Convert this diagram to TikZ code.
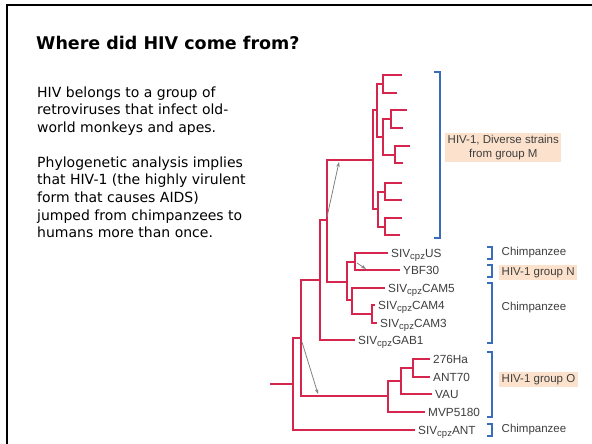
\documentclass[tikz,border=0pt]{standalone}
\usepackage{fontspec}
\setmainfont{Liberation Sans}
\newfontfamily\slidefont{DejaVu Sans}
\usetikzlibrary{arrows.meta}

\definecolor{treered}{RGB}{214,38,78}
\definecolor{bracketblue}{RGB}{58,108,190}
\definecolor{peach}{RGB}{252,226,204}
\definecolor{labelgray}{RGB}{62,62,62}

\newcommand{\cpzsub}{\raisebox{-0.4ex}{\fontsize{9.5}{10}\selectfont cpz}}

\begin{document}
\begin{tikzpicture}[x=1pt,y=-1pt,
    branch/.style={treered, line width=1.3pt},
    bracket/.style={bracketblue, line width=1.3pt},
    leaf/.style={anchor=west, inner xsep=3pt, inner ysep=0pt, text height=8.4pt, text depth=0pt,
        text=labelgray, font=\fontsize{11.8}{13}\selectfont},
    grouplabel/.style={anchor=west, inner xsep=2.5pt, inner ysep=2pt, text=labelgray,
        font=\fontsize{11.5}{14.5}\selectfont},
    hiv/.style={grouplabel, fill=peach},
    jump/.style={gray, line width=0.8pt, -{Stealth[length=5pt,width=3.5pt]}}]

    \useasboundingbox (0,0) rectangle (592,444);

    % Slide frame
    \draw[line width=2pt] (7,444) -- (7,5) -- (592,5);

    % Title and text
    \node[anchor=west, inner sep=0pt, font=\slidefont\bfseries\fontsize{17.5}{20}\selectfont]
        (title) at (36,43) {Where did HIV come from?};
    \node[anchor=north west, align=left, inner sep=0pt, font=\slidefont\fontsize{14}{17.6}\selectfont]
        (intro) at (37,86.5) {HIV belongs to a group of\\retroviruses that infect old-\\world monkeys and apes.};
    \node[anchor=north west, align=left, inner sep=0pt, font=\slidefont\fontsize{14}{17.6}\selectfont]
        (claim) at (37,156.5) {Phylogenetic analysis implies\\that HIV-1 (the highly virulent\\form that causes AIDS)\\jumped from chimpanzees to\\humans more than once.};

    % Tree nodes
    \coordinate (stem) at (270,384);
    \coordinate (root) at (293,384);
    \coordinate (n1) at (301,338);
    \coordinate (n2) at (320,280);
    \coordinate (n3) at (327,220);
    \coordinate (nN) at (347,282);
    \coordinate (nUS) at (355,262);
    \coordinate (nCAM) at (352,300);
    \coordinate (nCAM2) at (372,314);
    \coordinate (nO) at (388,396);
    \coordinate (nO1) at (401,381);
    \coordinate (nO2) at (413,368);
    \coordinate (nM) at (373,160);
    \coordinate (m1) at (377,110);
    \coordinate (m11) at (383,84);
    \coordinate (m12) at (383,137);
    \coordinate (m121) at (391,119);
    \coordinate (m122) at (395,155);
    \coordinate (m2) at (378,209);
    \coordinate (m21) at (385,192);
    \coordinate (m22) at (385,227);

    % Leaves
    \node[leaf] (ant) at (415,430) {SIV\cpzsub ANT};
    \node[leaf] (mvp) at (425,412) {MVP5180};
    \node[leaf] (vau) at (432,394) {VAU};
    \node[leaf] (ant70) at (430,377) {ANT70};
    \node[leaf] (ha) at (430,359) {276Ha};
    \node[leaf] (gab) at (355,340) {SIV\cpzsub GAB1};
    \node[leaf] (us) at (388,253) {SIV\cpzsub US};
    \node[leaf] (ybf) at (400,270) {YBF30};
    \node[leaf] (cam5) at (385,288) {SIV\cpzsub CAM5};
    \node[leaf] (cam4) at (375,305) {SIV\cpzsub CAM4};
    \node[leaf] (cam3) at (377,323) {SIV\cpzsub CAM3};

    % Branches
    \draw[branch] (stem) -- (root);
    \draw[branch] (root) |- (ant.west);
    \draw[branch] (root) |- (n1);
    \draw[branch] (n1) |- (nO);
    \draw[branch] (n1) |- (n2);
    \draw[branch] (nO) |- (mvp.west);
    \draw[branch] (nO) |- (nO1);
    \draw[branch] (nO1) |- (vau.west);
    \draw[branch] (nO1) |- (nO2);
    \draw[branch] (nO2) |- (ha.west);
    \draw[branch] (nO2) |- (ant70.west);
    \draw[branch] (n2) |- (gab.west);
    \draw[branch] (n2) |- (n3);
    \draw[branch] (n3) |- (nM);
    \draw[branch] (n3) |- (nN);
    \draw[branch] (nN) |- (nUS);
    \draw[branch] (nN) |- (nCAM);
    \draw[branch] (nUS) |- (us.west);
    \draw[branch] (nUS) |- (ybf.west);
    \draw[branch] (nCAM) |- (cam5.west);
    \draw[branch] (nCAM) |- (nCAM2);
    \draw[branch] (nCAM2) |- (cam4.west);
    \draw[branch] (nCAM2) |- (cam3.west);

    % Group M
    \draw[branch] (nM) |- (m1);
    \draw[branch] (nM) |- (m2);
    \draw[branch] (m1) |- (m11);
    \draw[branch] (m1) |- (m12);
    \draw[branch] (m12) |- (m121);
    \draw[branch] (m12) |- (m122);
    \draw[branch] (m2) |- (m21);
    \draw[branch] (m2) |- (m22);
    \draw[branch] (m11) |- (402,75);
    \draw[branch] (m11) |- (397,93);
    \draw[branch] (m121) |- (407,110);
    \draw[branch] (m121) |- (403,128);
    \draw[branch] (m122) |- (410,146);
    \draw[branch] (m122) |- (403,163);
    \draw[branch] (m21) |- (402,183);
    \draw[branch] (m21) |- (402,200);
    \draw[branch] (m22) |- (402,218);
    \draw[branch] (m22) |- (400,235);

    % Jumps into humans
    \draw[jump] (327,217) -- (339,162);
    \draw[jump] (357,263) -- (366,269);
    \draw[jump] (302,342) -- (318,394);

    % Brackets
    \draw[bracket] (434,72) -- (440,72) -- (440,238) -- (434,238);
    \draw[bracket] (487,247) -- (492,247) -- (492,259) -- (487,259);
    \draw[bracket] (487,265) -- (492,265) -- (492,277) -- (487,277);
    \draw[bracket] (487,283) -- (492,283) -- (492,343) -- (487,343);
    \draw[bracket] (487,352) -- (492,352) -- (492,417) -- (487,417);
    \draw[bracket] (487,424) -- (492,424) -- (492,436) -- (487,436);

    % Group labels
    \node[hiv, align=center] (grpM) at (445,147.5) {HIV-1, Diverse strains\\from group M};
    \node[grouplabel] (chimpUS) at (499,253) {Chimpanzee};
    \node[hiv] (grpN) at (499,272.5) {HIV-1 group N};
    \node[grouplabel] (chimpCAM) at (499,308) {Chimpanzee};
    \node[hiv] (grpO) at (499,379.5) {HIV-1 group O};
    \node[grouplabel] (chimpANT) at (499,430) {Chimpanzee};
\end{tikzpicture}
\end{document}
